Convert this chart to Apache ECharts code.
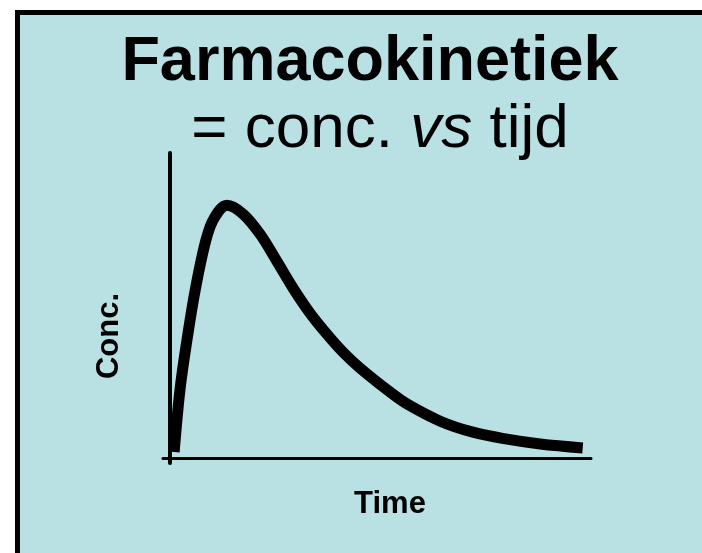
<!DOCTYPE html>
<html>
<head>
<meta charset="utf-8">
<script src="https://cdn.jsdelivr.net/npm/echarts@6/dist/echarts.min.js"></script>
<style>
  html, body { margin: 0; padding: 0; background: #ffffff; }
  #chart { width: 702px; height: 553px; }
</style>
</head>
<body>
<div id="chart"></div>
<script>
// curve (time in arbitrary units, conc. in % of axis height)
var time = [0.11, 0.25, 0.42, 0.62, 0.88, 1.08, 1.39, 1.78, 2.19, 2.58, 2.99, 3.40, 3.81, 4.20, 4.61, 5.34, 5.75, 6.55, 7.34, 8.17, 8.97, 10.0];
var conc = [2, 22.3, 38.7, 55.1, 71.5, 78.7, 82.9, 80.0, 73.4, 64.9, 55.7, 47.5, 40.6, 34.7, 29.5, 21.6, 17.7, 12.1, 8.5, 6.2, 4.6, 3.3];

var font = "'Liberation Sans', Arial, sans-serif";

var points = [];
for (var i = 0; i < time.length; i++) {
  points.push([time[i], conc[i]]);
}

var chart = echarts.init(document.getElementById("chart"));
chart.setOption({
  backgroundColor: "#ffffff",
  animation: false,
  // light blue panel with black frame
  graphic: [
    {
      type: "rect",
      z: -100,
      silent: true,
      shape: { x: 17.5, y: 12.5, width: 720, height: 600 },
      style: { fill: "#b9e0e3", stroke: "#000000", lineWidth: 5 }
    }
  ],
  title: [
    {
      text: "Farmacokinetiek",
      left: 370,
      top: 31,
      textAlign: "center",
      padding: 0,
      textStyle: { fontFamily: font, fontWeight: "bold", fontSize: 63, color: "#000000", lineHeight: 63 }
    },
    {
      text: "{n|= conc. }{i|vs}{n| tijd}",
      left: 380,
      top: 99,
      textAlign: "center",
      padding: 0,
      textStyle: {
        fontWeight: "normal",
        rich: {
          n: { fontFamily: font, fontSize: 62, fontWeight: "normal", color: "#000000", lineHeight: 62 },
          i: { fontFamily: font, fontSize: 62, fontWeight: "normal", fontStyle: "italic", color: "#000000", lineHeight: 62 }
        }
      }
    }
  ],
  grid: { left: 163, right: 111, top: 153, bottom: 90 },
  xAxis: {
    type: "value",
    min: -0.16,
    max: 10.2,
    name: "Time",
    nameLocation: "middle",
    nameGap: 26,
    nameTextStyle: { fontFamily: font, fontWeight: "bold", fontSize: 31, color: "#000000", padding: [0, 0, 0, 26] },
    axisLine: { show: true, onZero: true, lineStyle: { color: "#000000", width: 3 } },
    axisTick: { show: false },
    axisLabel: { show: false },
    splitLine: { show: false }
  },
  yAxis: {
    type: "value",
    min: -1.6,
    max: 100,
    name: "Conc.",
    nameLocation: "middle",
    nameGap: 38,
    nameTextStyle: { fontFamily: font, fontWeight: "bold", fontSize: 31, color: "#000000", padding: [0, 56, 0, 0] },
    axisLine: { show: true, onZero: true, lineStyle: { color: "#000000", width: 4 } },
    axisTick: { show: false },
    axisLabel: { show: false },
    splitLine: { show: false }
  },
  series: [
    {
      type: "line",
      data: points,
      symbol: "none",
      smooth: 0.35,
      lineStyle: { color: "#000000", width: 11 }
    }
  ]
});
</script>
</body>
</html>
